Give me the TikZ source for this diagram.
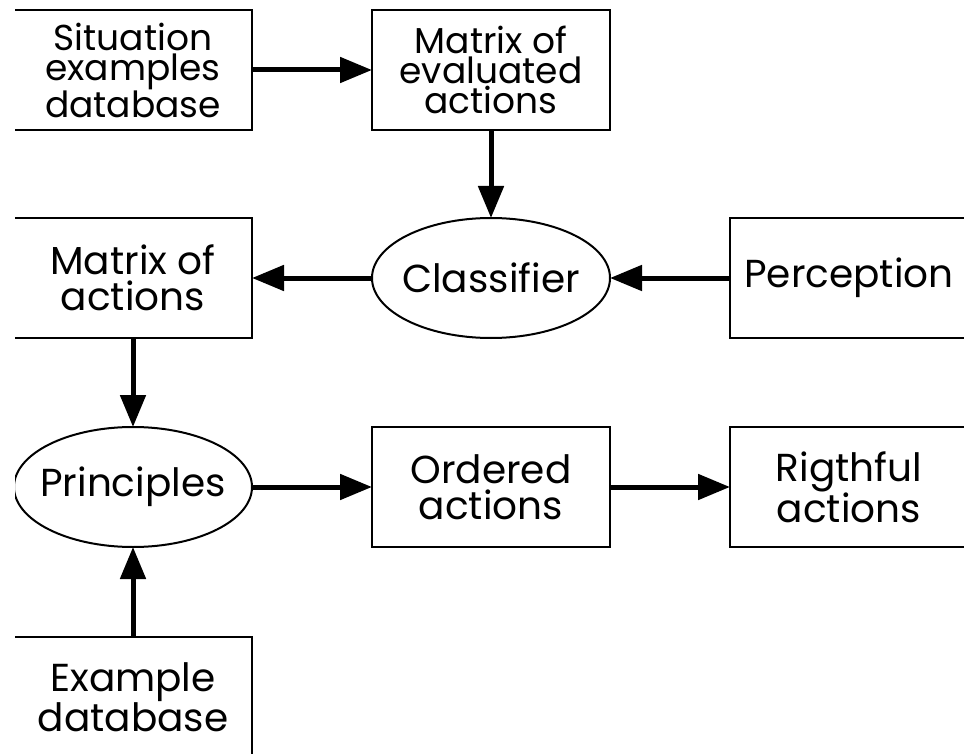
\documentclass[tikz,border=0pt]{standalone}
\usepackage{fontspec}
\setmainfont{Poppins}
\usetikzlibrary{shapes.geometric,arrows.meta}
\tikzset{
  boxnode/.style={draw, line width=2pt, rectangle, minimum width=238pt, minimum height=120pt, inner sep=0pt, align=center},
  ellnode/.style={draw, line width=2pt, ellipse, minimum width=238pt, minimum height=120pt, inner sep=0pt, align=center},
  flowarrow/.style={line width=5pt, -{Triangle[length=32pt,width=25pt]}, shorten >=-1pt},
  lsk/.style={font={\fontsize{39}{#1}\selectfont}},
  lsks/.style={font={\fontsize{36}{#1}\selectfont}},
}
\begin{document}
\begin{tikzpicture}[x=1pt,y=-1pt]
\useasboundingbox (0,0) rectangle (964,754);
\begin{scope}
\clip (15,0) rectangle (964,754);
\node[boxnode,lsks=30] (sit) at (133,70) {Situation\\examples\\database};
\node[boxnode,lsks=30] (mev) at (491,70) {Matrix of\\evaluated\\actions};
\node[boxnode,lsk=36] (mac) at (133,278) {Matrix of\\actions};
\node[ellnode,lsk=36] (cls) at (491,278) {\makebox[0pt]{Classifier}};
\node[boxnode,lsk=36] (per) at (849,278) {Perception};
\node[ellnode,lsk=36] (pri) at (133,487) {\makebox[0pt]{Principles}};
\node[boxnode,lsk=36] (ord) at (491,487) {Ordered\\actions};
\node[boxnode,lsk=39] (rig) at (849,487) {Rigthful\\actions};
\node[boxnode,lsk=40] (exd) at (133,697) {Example\\database};
\draw[flowarrow] (sit) -- (mev);
\draw[flowarrow] (mev) -- (cls);
\draw[flowarrow] (cls) -- (mac);
\draw[flowarrow] (per) -- (cls);
\draw[flowarrow] (mac) -- (pri);
\draw[flowarrow] (pri) -- (ord);
\draw[flowarrow] (ord) -- (rig);
\draw[flowarrow] (exd) -- (pri);
\end{scope}
\end{tikzpicture}
\end{document}
